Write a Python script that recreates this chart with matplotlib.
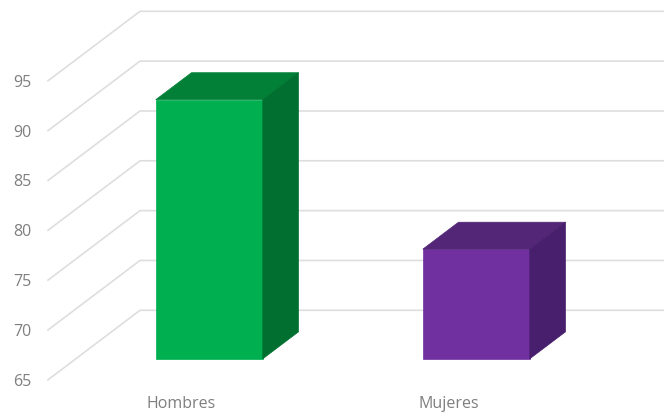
import matplotlib
matplotlib.use('Agg')
import matplotlib.pyplot as plt
from matplotlib.patches import Polygon

categories = ['Hombres', 'Mujeres']
values = [91, 76]
ticks = [65, 70, 75, 80, 85, 90, 95]
colors = ['#00AF50', '#7030A0']
top_colors = ['#028038', '#532677']
side_colors = ['#006F2F', '#481F6C']

base = 65
W, H = 664, 414
cat_px = 267.0    # width of one category
val_px = 9.967    # height of one unit
depth_dx = 92.0 / cat_px
depth_dy = 69.5 / val_px
bar_width = 107.0 / cat_px
d_front = 0.302
d_back = 0.69

plt.rcParams['font.family'] = ['Open Sans', 'DejaVu Sans']

fig = plt.figure(figsize=(W / 100, H / 100), dpi=100)
ax = fig.add_axes([0, 0, 1, 1])
ax.set_xlim(-0.5 - 48 / cat_px, -0.5 + (W - 48) / cat_px)
ax.set_ylim(base - 33.2 / val_px, base + 380.8 / val_px)
ax.axis('off')


def project(x, y, d):
    # depth d goes from 0 (front of floor) to 1 (back wall)
    return x + d * depth_dx, y + d * depth_dy


# gridlines: side wall then back wall
x_left = -0.5
x_right = x_left + 3
for t in ticks:
    p0 = project(x_left, t, 0)
    p1 = project(x_left, t, 1)
    p2 = project(x_right, t, 1)
    ax.plot([p0[0], p1[0], p2[0]], [p0[1], p1[1], p2[1]], color='#DEDEDE', lw=1.2, zorder=1)
    ax.text(x_left - 17 / cat_px, t - 0.1, str(t), ha='right', va='center', fontsize=11.5, color='#7F7F7F')

# bars
for i, (cat, v) in enumerate(zip(categories, values)):
    l = i - bar_width / 2
    r = i + bar_width / 2
    front = [project(l, base, d_front), project(r, base, d_front),
             project(r, v, d_front), project(l, v, d_front)]
    top = [project(l, v, d_front), project(r, v, d_front),
           project(r, v, d_back), project(l, v, d_back)]
    side = [project(r, base, d_front), project(r, base, d_back),
            project(r, v, d_back), project(r, v, d_front)]
    ax.add_patch(Polygon(front, facecolor=colors[i], edgecolor=colors[i], lw=0.5, zorder=3))
    ax.add_patch(Polygon(top, facecolor=top_colors[i], edgecolor=top_colors[i], lw=0.5, zorder=3))
    ax.add_patch(Polygon(side, facecolor=side_colors[i], edgecolor=side_colors[i], lw=0.5, zorder=3))
    ax.text(i, base - 23.5 / val_px, cat, ha='center', va='center', fontsize=11.5, color='#7F7F7F')

fig.savefig('out.png', dpi=100, facecolor='white')
